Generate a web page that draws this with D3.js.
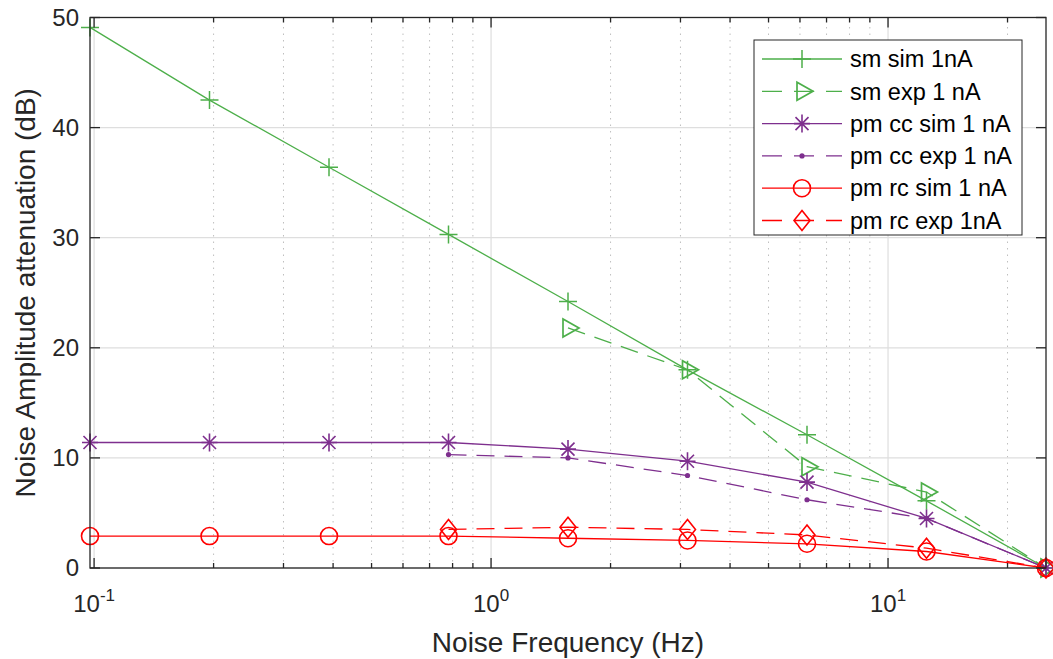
<!DOCTYPE html>
<html>
<head>
<meta charset="utf-8">
<script src="https://cdn.jsdelivr.net/npm/d3@7"></script>
<style>
  body { margin: 0; background: #fff; }
  svg { font-family: "Liberation Sans", Arial, sans-serif; }
</style>
</head>
<body>
<div id="chart"></div>
<script>
const width = 1053;
const height = 659;

// frequencies (Hz): 25 / 2^k
const freqs = [25/256, 25/128, 25/64, 25/32, 25/16, 25/8, 25/4, 25/2, 25];

const smSim   = [49.1, 42.5, 36.4, 30.3, 24.2, 18.0, 12.1, 6.1, 0];
const smExp   = [null, null, null, null, 21.8, 18.0, 9.2, 6.9, 0];
const pmccSim = [11.4, 11.4, 11.4, 11.4, 10.8, 9.7, 7.8, 4.5, 0];
const pmccExp = [null, null, null, 10.3, 10.0, 8.4, 6.2, 4.5, 0];
const pmrcSim = [2.9, 2.9, 2.9, 2.9, 2.7, 2.5, 2.2, 1.5, 0];
const pmrcExp = [null, null, null, 3.5, 3.7, 3.5, 3.0, 1.8, 0];

const yTicks = [0, 10, 20, 30, 40, 50];
const xTicks = [0.1, 1, 10];
const xTickLabels = [["10", "-1"], ["10", "0"], ["10", "1"]];

const green = "#4daf4a";
const purple = "#7e2f8e";
const red = "#ff0000";

const series = [
  { name: "sm sim 1nA", values: smSim, color: green, dash: null, marker: "plus" },
  { name: "sm exp 1 nA", values: smExp, color: green, dash: "18,10", marker: "triangle" },
  { name: "pm cc sim 1 nA", values: pmccSim, color: purple, dash: null, marker: "star" },
  { name: "pm cc exp 1 nA", values: pmccExp, color: purple, dash: "18,10", marker: "dot" },
  { name: "pm rc sim 1 nA", values: pmrcSim, color: red, dash: null, marker: "circle" },
  { name: "pm rc exp 1nA", values: pmrcExp, color: red, dash: "18,10", marker: "diamond" }
];

const margin = { left: 90, right: 7, top: 17.5, bottom: 91 };

const x = d3.scaleLog()
  .domain([25/256, 25])
  .range([margin.left, width - margin.right]);
const y = d3.scaleLinear()
  .domain([0, 50])
  .range([height - margin.bottom, margin.top]);

const svg = d3.select("#chart").append("svg")
  .attr("width", width)
  .attr("height", height);

const x0 = x.range()[0], x1 = x.range()[1];
const y0 = y.range()[0], y1 = y.range()[1];

// minor x values
let minor = [];
[0.1, 1, 10].forEach(dec => {
  for (let m = 2; m <= 9; m++) {
    const v = dec * m;
    if (v >= 25/256 && v <= 25) minor.push(v);
  }
});

// grid
const grid = svg.append("g");
grid.selectAll(".minor").data(minor).enter().append("line")
  .attr("x1", d => x(d)).attr("x2", d => x(d))
  .attr("y1", y0).attr("y2", y1)
  .attr("stroke", "#bfbfbf").attr("stroke-width", 1)
  .attr("stroke-dasharray", "1.5,5");
grid.selectAll(".major").data(xTicks).enter().append("line")
  .attr("x1", d => x(d)).attr("x2", d => x(d))
  .attr("y1", y0).attr("y2", y1)
  .attr("stroke", "#dedede").attr("stroke-width", 1.2);
grid.selectAll(".hy").data(yTicks).enter().append("line")
  .attr("x1", x0).attr("x2", x1)
  .attr("y1", d => y(d)).attr("y2", d => y(d))
  .attr("stroke", "#dedede").attr("stroke-width", 1.2);

// markers
function drawMarker(g, type, color) {
  if (type === "plus") {
    g.append("path").attr("d", "M-9,0H9M0,-9V9")
      .attr("stroke", color).attr("stroke-width", 1.5).attr("fill", "none");
  } else if (type === "triangle") {
    g.append("path").attr("d", "M-5,-9L-5,9L11,0Z")
      .attr("stroke", color).attr("stroke-width", 1.7).attr("fill", "none");
  } else if (type === "star") {
    g.append("path").attr("d", "M-8,0H8M0,-9V9M-6.5,-6.5L6.5,6.5M-6.5,6.5L6.5,-6.5")
      .attr("stroke", color).attr("stroke-width", 1.6).attr("fill", "none");
  } else if (type === "dot") {
    g.append("circle").attr("r", 2.6).attr("fill", color);
  } else if (type === "circle") {
    g.append("circle").attr("r", 8.5)
      .attr("stroke", color).attr("stroke-width", 1.6).attr("fill", "none");
  } else if (type === "diamond") {
    g.append("path").attr("d", "M0,-10L8,0L0,10L-8,0Z")
      .attr("stroke", color).attr("stroke-width", 1.6).attr("fill", "none");
  }
}

const line = d3.line()
  .defined(d => d.v !== null)
  .x(d => x(d.f))
  .y(d => y(d.v));

series.forEach(s => {
  const pts = s.values.map((v, i) => ({ f: freqs[i], v: v }));
  svg.append("path")
    .datum(pts)
    .attr("d", line)
    .attr("fill", "none")
    .attr("stroke", s.color)
    .attr("stroke-width", 1.3)
    .attr("stroke-dasharray", s.dash);
  pts.filter(d => d.v !== null).forEach(d => {
    const g = svg.append("g").attr("transform", `translate(${x(d.f)},${y(d.v)})`);
    drawMarker(g, s.marker, s.color);
  });
});

// axes box
const axisColor = "#262626";
svg.append("rect")
  .attr("x", x0).attr("y", y1)
  .attr("width", x1 - x0).attr("height", y0 - y1)
  .attr("fill", "none").attr("stroke", axisColor).attr("stroke-width", 1.3);

// ticks (inward)
const ticks = svg.append("g").attr("stroke", axisColor).attr("stroke-width", 1.3);
yTicks.forEach(v => {
  ticks.append("line").attr("x1", x0).attr("x2", x0 + 10).attr("y1", y(v)).attr("y2", y(v));
  ticks.append("line").attr("x1", x1).attr("x2", x1 - 10).attr("y1", y(v)).attr("y2", y(v));
});
xTicks.forEach(v => {
  ticks.append("line").attr("x1", x(v)).attr("x2", x(v)).attr("y1", y0).attr("y2", y0 - 10);
  ticks.append("line").attr("x1", x(v)).attr("x2", x(v)).attr("y1", y1).attr("y2", y1 + 10);
});
minor.forEach(v => {
  ticks.append("line").attr("x1", x(v)).attr("x2", x(v)).attr("y1", y0).attr("y2", y0 - 5);
  ticks.append("line").attr("x1", x(v)).attr("x2", x(v)).attr("y1", y1).attr("y2", y1 + 5);
});

// tick labels
svg.selectAll(".ylab").data(yTicks).enter().append("text")
  .attr("x", x0 - 11).attr("y", d => y(d))
  .attr("dy", "0.35em")
  .attr("text-anchor", "end")
  .attr("font-size", 24)
  .attr("fill", axisColor)
  .text(d => d);

xTicks.forEach((v, i) => {
  const t = svg.append("text")
    .attr("x", x(v)).attr("y", y0 + 44)
    .attr("text-anchor", "middle")
    .attr("font-size", 24)
    .attr("fill", axisColor);
  t.append("tspan").text(xTickLabels[i][0]);
  t.append("tspan").attr("dy", -11).attr("font-size", 17).text(xTickLabels[i][1]);
});

// axis titles
svg.append("text")
  .attr("x", (x0 + x1) / 2).attr("y", 652)
  .attr("text-anchor", "middle")
  .attr("font-size", 28)
  .attr("fill", axisColor)
  .text("Noise Frequency (Hz)");

svg.append("text")
  .attr("transform", `translate(35,${(y0 + y1) / 2}) rotate(-90)`)
  .attr("text-anchor", "middle")
  .attr("font-size", 28)
  .attr("fill", axisColor)
  .text("Noise Amplitude attenuation (dB)");

// legend
const lg = svg.append("g").attr("transform", "translate(754,40)");
lg.append("rect")
  .attr("width", 268).attr("height", 195)
  .attr("fill", "#fff").attr("stroke", axisColor).attr("stroke-width", 1);
series.forEach((s, i) => {
  const yy = 19 + i * 32.3;
  lg.append("line")
    .attr("x1", 8).attr("x2", 88).attr("y1", yy).attr("y2", yy)
    .attr("stroke", s.color).attr("stroke-width", 1.3)
    .attr("stroke-dasharray", s.dash ? "20,12" : null);
  const g = lg.append("g").attr("transform", `translate(48,${yy})`);
  drawMarker(g, s.marker, s.color);
  lg.append("text")
    .attr("x", 96).attr("y", yy).attr("dy", "0.35em")
    .attr("font-size", 23.5).attr("fill", "#000")
    .text(s.name);
});
</script>
</body>
</html>
